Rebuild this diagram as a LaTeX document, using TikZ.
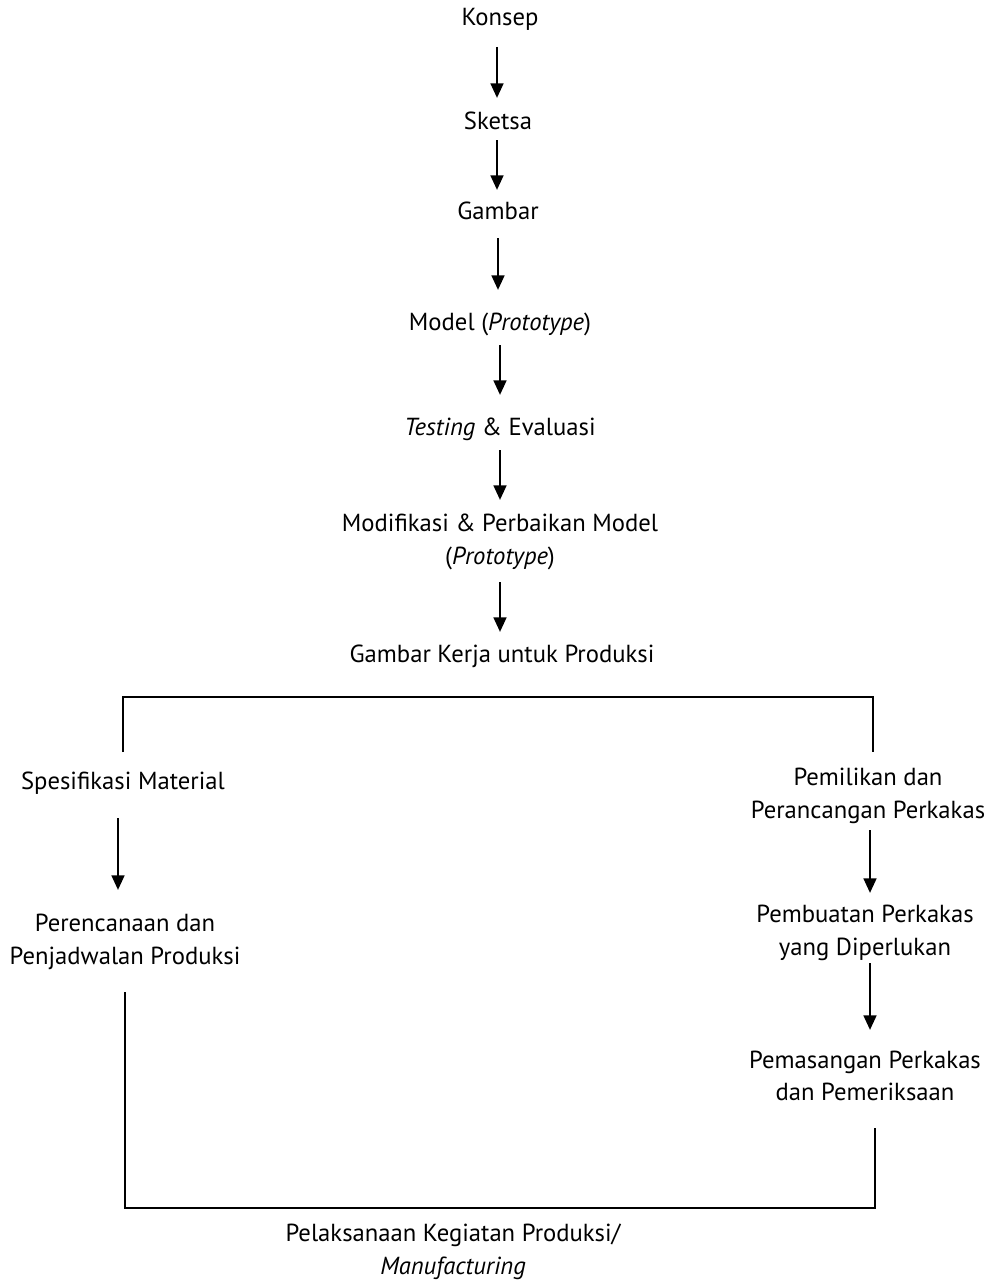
\documentclass[tikz,border=0pt]{standalone}
\usepackage{fontspec}
\setmainfont{PT Sans}
\usetikzlibrary{arrows.meta,calc}
\begin{document}
\begin{tikzpicture}[x=0.75pt,y=-0.75pt,
  lbl/.style={inner sep=0pt,align=center,font=\fontsize{18.5}{24.5}\selectfont},
  arr/.style={line width=2pt,-{Triangle[length=11pt,width=9.5pt]}},
  ln/.style={line width=2pt}]
\useasboundingbox (0,0) rectangle (990,1281);
% main column
\node[lbl] (konsep) at (500,19) {Konsep};
\node[lbl] (sketsa) at (498,121) {Sketsa};
\node[lbl] (gambar) at (498,211) {Gambar};
\node[lbl] (model) at (500,324) {Model (\textit{Prototype})};
\node[lbl] (testing) at (500,429) {\textit{Testing} \& Evaluasi};
\node[lbl] (modif) at (500,542) {Modifikasi \& Perbaikan Model\\(\textit{Prototype})};
\node[lbl] (kerja) at (502,656) {Gambar Kerja untuk Produksi};
% left column
\node[lbl] (spes) at (123,783) {Spesifikasi Material};
\node[lbl] (rencana) at (125,942) {Perencanaan dan\\Penjadwalan Produksi};
% right column
\node[lbl] (pilih) at (868,796) {Pemilikan dan\\Perancangan Perkakas};
\node[lbl] (buat) at (865,933) {Pembuatan Perkakas\\yang Diperlukan};
\node[lbl] (pasang) at (865,1076) {Pemasangan Perkakas\\dan Pemeriksaan};
% bottom
\node[lbl] (laksana) at (453,1252) {Pelaksanaan Kegiatan Produksi/\\\textit{Manufacturing}};
% arrows main column
\draw[arr] ($(konsep)+(-3,28)$) -- ($(sketsa)+(-1,-23)$);
\draw[arr] ($(sketsa)+(-1,19)$) -- ($(gambar)+(-1,-21)$);
\draw[arr] ($(gambar)+(0,27)$) -- ($(model)+(-2,-34)$);
\draw[arr] ($(model)+(0,21)$) -- ($(testing)+(0,-34)$);
\draw[arr] ($(testing)+(0,21)$) -- ($(modif)+(0,-42)$);
\draw[arr] ($(modif)+(0,40)$) -- ($(kerja)+(-2,-24)$);
% bracket top
\draw[ln] ($(spes)+(0,-31)$) |- ($(kerja)+(0,41)$) -| ($(pilih)+(5,-44)$);
% left column
\draw[arr] ($(spes)+(-5,35)$) -- ($(rencana)+(-7,-52)$);
\draw[ln] ($(rencana)+(0,50)$) |- ($(laksana)+(0,-44)$) -| ($(pasang)+(10,52)$);
% right column
\draw[arr] ($(pilih)+(2,34)$) -- ($(buat)+(5,-40)$);
\draw[arr] ($(buat)+(5,30)$) -- ($(pasang)+(5,-46)$);
\end{tikzpicture}
\end{document}
